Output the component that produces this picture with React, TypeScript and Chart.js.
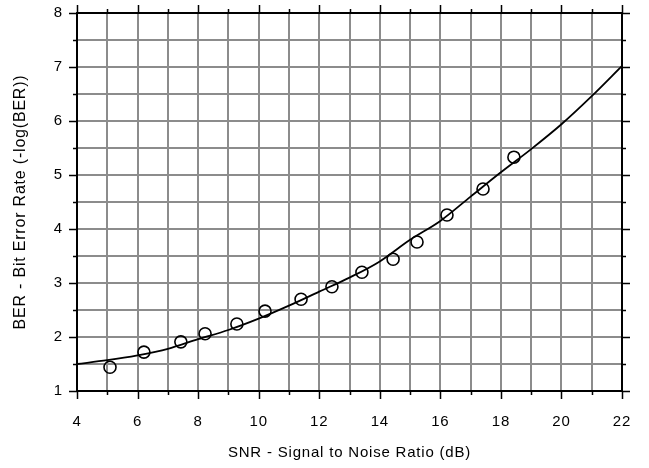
import React, { useEffect, useRef } from "react";
import { Chart, registerables } from "chart.js";

Chart.register(...registerables);

const curveX = [4, 5, 6, 7, 8, 9, 10, 11, 12, 13, 14, 15, 16, 17, 18, 19, 20, 21, 22];
const curveY = [1.5, 1.57, 1.66, 1.78, 1.96, 2.13, 2.34, 2.58, 2.84, 3.1, 3.4, 3.8, 4.15, 4.6, 5.05, 5.48, 5.94, 6.46, 7.02];

const measX = [5.09, 6.21, 7.43, 8.23, 9.28, 10.21, 11.4, 12.42, 13.41, 14.44, 15.23, 16.22, 17.41, 18.43];
const measY = [1.44, 1.72, 1.91, 2.06, 2.24, 2.48, 2.7, 2.93, 3.2, 3.44, 3.76, 4.26, 4.74, 5.33];

const xTitle = "SNR - Signal to Noise Ratio (dB)";
const yTitle = "BER - Bit Error Rate (-log(BER))";

const FONT = "'Liberation Sans', Arial, sans-serif";

const spacingPlugin = {
  id: "spacing",
  beforeInit(chart: any) {
    chart.ctx.letterSpacing = "0.8px";
  },
  beforeDraw(chart: any) {
    chart.ctx.letterSpacing = "0.8px";
  },
};

const framePlugin = {
  id: "frameTicks",
  afterDraw(chart: any) {
    const { ctx, chartArea, scales } = chart;
    const xs = scales.x;
    const ys = scales.y;
    ctx.save();
    ctx.strokeStyle = "#000";
    ctx.lineWidth = 1.5;
    ctx.beginPath();
    for (let v = 4; v <= 22; v += 1) {
      const p = Math.round(xs.getPixelForValue(v)) + 0.5;
      const len = v % 2 === 0 ? 8 : 4;
      ctx.moveTo(p, chartArea.bottom);
      ctx.lineTo(p, chartArea.bottom + len);
      ctx.moveTo(p, chartArea.top);
      ctx.lineTo(p, chartArea.top - len);
    }
    for (let v = 1; v <= 8; v += 0.5) {
      const p = Math.round(ys.getPixelForValue(v)) + 0.5;
      const len = Number.isInteger(v) ? 8 : 4;
      ctx.moveTo(chartArea.left, p);
      ctx.lineTo(chartArea.left - len, p);
      ctx.moveTo(chartArea.right, p);
      ctx.lineTo(chartArea.right + len, p);
    }
    ctx.stroke();
    ctx.lineWidth = 2;
    ctx.strokeRect(chartArea.left, chartArea.top, chartArea.right - chartArea.left, chartArea.bottom - chartArea.top);
    ctx.restore();
  },
};

export default function App() {
  const ref = useRef<HTMLCanvasElement | null>(null);
  useEffect(() => {
    if (!ref.current) return;
    const chart = new Chart(ref.current, {
      type: "scatter",
      data: {
        datasets: [
          {
            label: "theory",
            data: curveX.map((x, i) => ({ x, y: curveY[i] })),
            showLine: true,
            borderColor: "#000",
            borderWidth: 1.8,
            pointRadius: 0,
            cubicInterpolationMode: "monotone",
            fill: false,
          } as any,
          {
            label: "measured",
            data: measX.map((x, i) => ({ x, y: measY[i] })),
            showLine: false,
            borderColor: "#000",
            backgroundColor: "rgba(0,0,0,0)",
            borderWidth: 1.6,
            pointRadius: 6,
            pointStyle: "circle",
          },
        ],
      },
      options: {
        animation: false,
        responsive: false,
        maintainAspectRatio: false,
        layout: { padding: { top: 13, right: 27, left: 0, bottom: 0 } },
        plugins: { legend: { display: false }, tooltip: { enabled: false } },
        scales: {
          x: {
            type: "linear",
            min: 4,
            max: 22,
            afterFit: (s: any) => { s.height = 77; s.paddingLeft = 0; s.paddingRight = 0; },
            ticks: {
              stepSize: 1,
              autoSkip: false,
              maxRotation: 0,
              padding: 22,
              color: "#000",
              font: { family: FONT, size: 15 },
              callback: (v: any) => (Number(v) % 2 === 0 ? String(v) : ""),
            },
            grid: { color: "#8c8c8c", lineWidth: 2, drawTicks: false },
            border: { display: false },
            title: {
              display: true,
              text: xTitle,
              color: "#000",
              font: { family: FONT, size: 15 },
              padding: { top: 10, bottom: 6 },
            },
          },
          y: {
            type: "linear",
            min: 1,
            max: 8,
            afterFit: (s: any) => { s.width = 77; s.paddingTop = 0; s.paddingBottom = 0; },
            ticks: {
              stepSize: 0.5,
              autoSkip: false,
              padding: 14,
              color: "#000",
              font: { family: FONT, size: 15 },
              callback: (v: any) => (Number.isInteger(Number(v)) ? String(v) : ""),
            },
            grid: { color: "#8c8c8c", lineWidth: 2, drawTicks: false },
            border: { display: false },
            title: {
              display: true,
              text: yTitle,
              color: "#000",
              font: { family: FONT, size: 16 },
              padding: { top: 11, bottom: 4 },
            },
          },
        },
      },
      plugins: [spacingPlugin, framePlugin],
    } as any);
    return () => chart.destroy();
  }, []);
  return (
    <div style={{ position: "fixed", left: 0, top: 0, width: 649, height: 468, background: "#fff" }}>
      <canvas ref={ref} width={649} height={468} style={{ display: "block", width: 649, height: 468 }} />
    </div>
  );
}
